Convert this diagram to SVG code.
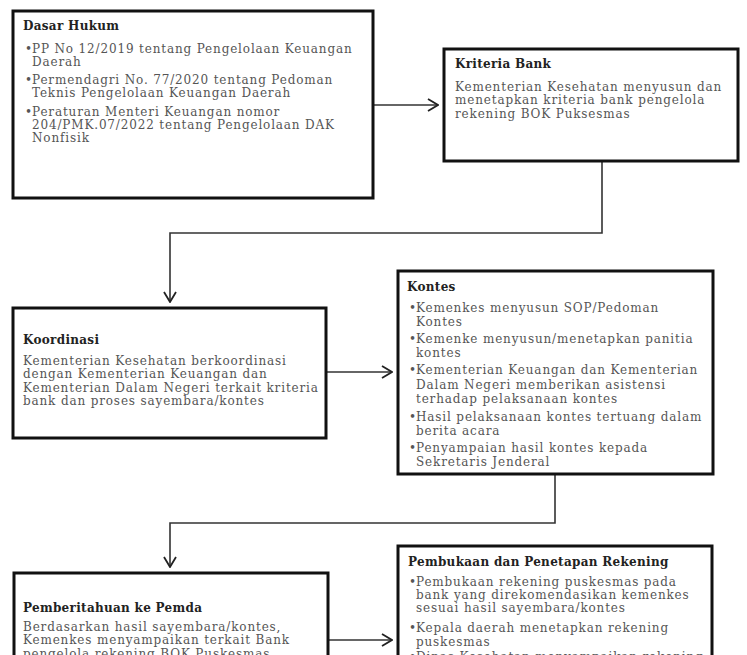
<svg xmlns="http://www.w3.org/2000/svg" width="747" height="655" viewBox="0 0 747 655">
<defs>
<marker id="chev" viewBox="0 0 12 14" refX="11" refY="7" markerWidth="12" markerHeight="14" markerUnits="userSpaceOnUse" orient="auto">
<path d="M1,1 L11,7 L1,13" fill="none" stroke="#222" stroke-width="1.8"/>
</marker>
</defs>
<style>
.box{fill:#fff;stroke:#111;stroke-width:3}
.t{font-family:"DejaVu Serif","Liberation Serif",serif;font-size:12px;font-weight:bold;fill:#222;letter-spacing:0.3px}
.b{font-family:"DejaVu Serif","Liberation Serif",serif;font-size:12px;fill:#555;letter-spacing:0.85px}
.c{fill:none;stroke:#333;stroke-width:1.6}
</style>
<rect width="747" height="655" fill="#fff"/>
<g id="connectors">
<path class="c" d="M373,105 H438" marker-end="url(#chev)"/>
<path class="c" d="M602,161 V233 H170 V302" marker-end="url(#chev)"/>
<path class="c" d="M326,372 H392" marker-end="url(#chev)"/>
<path class="c" d="M555,474 V523 H170 V567" marker-end="url(#chev)"/>
<path class="c" d="M328,640 H392" marker-end="url(#chev)"/>
</g>
<g id="dasar-hukum">
<rect class="box" x="13" y="11" width="360" height="187"/>
<text class="t" x="23" y="30">Dasar Hukum</text>
<text class="b" x="25" y="53">•</text>
<text class="b" x="32" y="53">PP No 12/2019 tentang Pengelolaan Keuangan</text>
<text class="b" x="32" y="66">Daerah</text>
<text class="b" x="25" y="84">•</text>
<text class="b" x="32" y="84">Permendagri No. 77/2020 tentang Pedoman</text>
<text class="b" x="32" y="97">Teknis Pengelolaan Keuangan Daerah</text>
<text class="b" x="25" y="116">•</text>
<text class="b" x="32" y="116">Peraturan Menteri Keuangan nomor</text>
<text class="b" x="32" y="129">204/PMK.07/2022 tentang Pengelolaan DAK</text>
<text class="b" x="32" y="142">Nonfisik</text>
</g>
<g id="kriteria-bank">
<rect class="box" x="444" y="49" width="294" height="112"/>
<text class="t" x="455" y="68">Kriteria Bank</text>
<text class="b" x="455" y="91">Kementerian Kesehatan menyusun dan</text>
<text class="b" x="455" y="104">menetapkan kriteria bank pengelola</text>
<text class="b" x="455" y="118">rekening BOK Puksesmas</text>
</g>
<g id="koordinasi">
<rect class="box" x="13" y="308" width="313" height="130"/>
<text class="t" x="23" y="344">Koordinasi</text>
<text class="b" x="23" y="365">Kementerian Kesehatan berkoordinasi</text>
<text class="b" x="23" y="378">dengan Kementerian Keuangan dan</text>
<text class="b" x="23" y="392">Kementerian Dalam Negeri terkait kriteria</text>
<text class="b" x="23" y="405">bank dan proses sayembara/kontes</text>
</g>
<g id="kontes">
<rect class="box" x="398" y="271" width="315" height="203"/>
<text class="t" x="407" y="291">Kontes</text>
<text class="b" x="409" y="312">•</text>
<text class="b" x="416" y="312">Kemenkes menyusun SOP/Pedoman</text>
<text class="b" x="416" y="326">Kontes</text>
<text class="b" x="409" y="343">•</text>
<text class="b" x="416" y="343">Kemenke menyusun/menetapkan panitia</text>
<text class="b" x="416" y="357">kontes</text>
<text class="b" x="409" y="374">•</text>
<text class="b" x="416" y="374">Kementerian Keuangan dan Kementerian</text>
<text class="b" x="416" y="389">Dalam Negeri memberikan asistensi</text>
<text class="b" x="416" y="403">terhadap pelaksanaan kontes</text>
<text class="b" x="409" y="421">•</text>
<text class="b" x="416" y="421">Hasil pelaksanaan kontes tertuang dalam</text>
<text class="b" x="416" y="435">berita acara</text>
<text class="b" x="409" y="452">•</text>
<text class="b" x="416" y="452">Penyampaian hasil kontes kepada</text>
<text class="b" x="416" y="466">Sekretaris Jenderal</text>
</g>
<g id="pemberitahuan">
<rect class="box" x="14" y="573" width="314" height="100"/>
<text class="t" x="23" y="612">Pemberitahuan ke Pemda</text>
<text class="b" x="23" y="631">Berdasarkan hasil sayembara/kontes,</text>
<text class="b" x="23" y="644">Kemenkes menyampaikan terkait Bank</text>
<text class="b" x="23" y="658">pengelola rekening BOK Puskesmas</text>
</g>
<g id="pembukaan">
<rect class="box" x="398" y="546" width="314" height="130"/>
<text class="t" x="408" y="566">Pembukaan dan Penetapan Rekening</text>
<text class="b" x="409" y="586">•</text>
<text class="b" x="416" y="586">Pembukaan rekening puskesmas pada</text>
<text class="b" x="416" y="599">bank yang direkomendasikan kemenkes</text>
<text class="b" x="416" y="612">sesuai hasil sayembara/kontes</text>
<text class="b" x="409" y="632">•</text>
<text class="b" x="416" y="632">Kepala daerah menetapkan rekening</text>
<text class="b" x="416" y="646">puskesmas</text>
<text class="b" x="409" y="661">•</text>
<text class="b" x="416" y="661">Dinas Kesehatan menyampaikan rekening</text>
</g>
</svg>
